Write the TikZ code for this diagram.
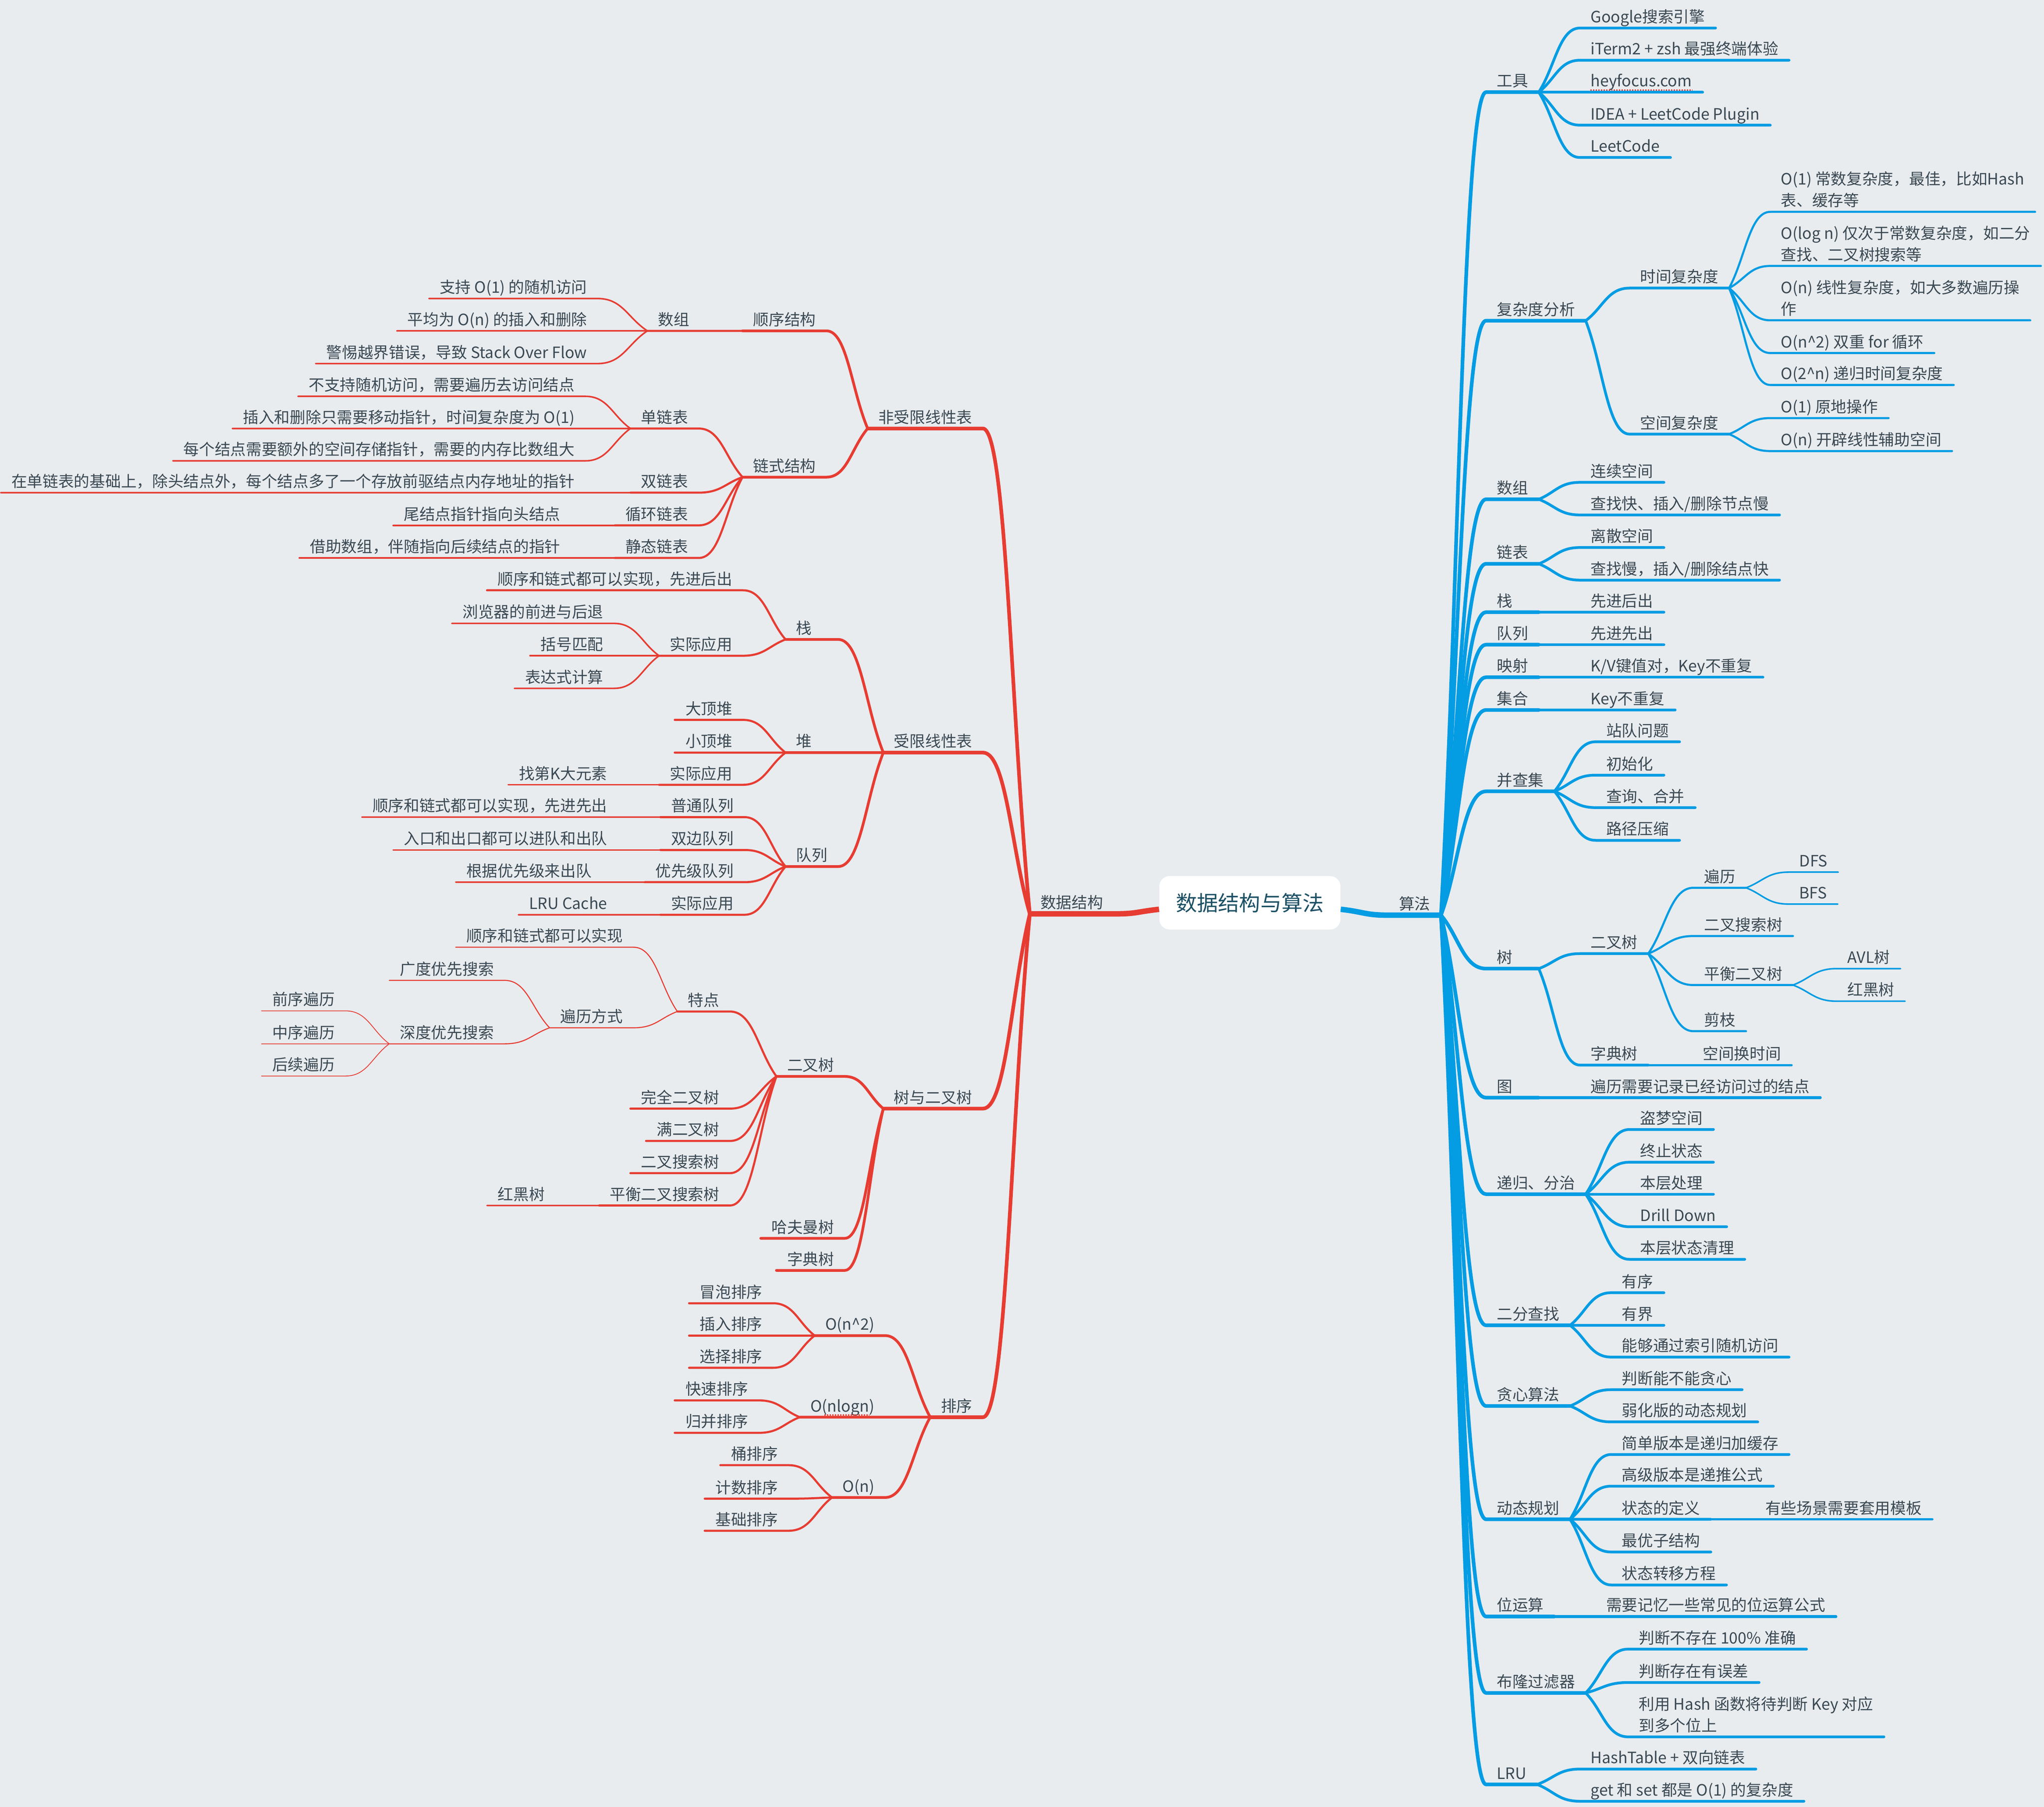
\documentclass[tikz,border=0pt]{standalone}
\usepackage{fontspec}
\setmainfont{Noto Sans CJK SC}
\usetikzlibrary{calc}
\definecolor{bgc}{RGB}{232,236,239}
\definecolor{dsred}{RGB}{231,60,50}
\definecolor{algblue}{RGB}{4,156,227}
\definecolor{txt}{RGB}{58,72,82}
\definecolor{roottxt}{RGB}{28,80,100}
\newcommand\mlines[2]{\begin{tabular}[b]{@{}l@{}}#1\\#2\end{tabular}}
% nhanh phai: tu cuoi gach chan cua cha sang dau gach chan cua con
\newcommand\linkR[3][]{\draw[#1] (#2.south east) .. controls ($(#2.south east)!0.4!(#3.south west)$) and ($(#3.south west)!0.5!(#2.south east |- #3.south west)$) .. (#3.south west) -- (#3.south east);}
% nhanh trai
\newcommand\linkL[3][]{\draw[#1] (#2.south west) .. controls ($(#2.south west)!0.4!(#3.south east)$) and ($(#3.south east)!0.5!(#2.south west |- #3.south east)$) .. (#3.south east) -- (#3.south west);}
\begin{document}
\begin{tikzpicture}[x=1pt, y=-1pt, line join=round, line cap=round,
	font=\fontsize{12}{16.5}\selectfont,
	topic/.style={inner xsep=8pt, inner ysep=1pt, text depth=3pt, text=txt},
	rt/.style={topic, anchor=south west},
	lt/.style={topic, anchor=south east},
	sh/.style={text width=24pt},
	root/.style={fill=white, rounded corners=8pt, minimum width=139pt, minimum height=41pt, inner sep=0pt, text=roottxt, font=\fontsize{16.2}{18}\selectfont},
	bl/.style={draw=algblue}, rd/.style={draw=dsred},
	d1/.style={line width=2.8pt}, d2/.style={line width=2.1pt}, d3/.style={line width=1.6pt},
	d4/.style={line width=1.2pt}, d5/.style={line width=0.8pt}, d6/.style={line width=0.6pt}]
	\def\rA{1140}  % cot nhanh 1 ben phai
	\def\lA{754}   % cot nhanh 1 ben trai
	\fill[bgc] (0,0) rectangle (1568,1386);
	\useasboundingbox (0,0) rectangle (1568,1386);
	
	\node[root] (root) at (958.8,692.5) {数据结构与算法};
	\node[rt] (alg) at (1065,702) {算法};
	\node[lt, anchor=south west] (ds) at (790,701) {数据结构};
	\coordinate (rootR) at ($(root.east)+(0,5)$);
	\coordinate (rootL) at ($(root.west)+(0,5)$);
	\draw[bl, line width=4.2pt, line cap=butt] (rootR) .. controls +(18,2) and +(-18,0) .. (alg.south west) -- (alg.south east);
	\draw[rd, line width=4.2pt, line cap=butt] (rootL) .. controls +(-18,2) and +(18,0) .. (ds.south east) -- (ds.south west);
	
	% ===== 算法 =====
	\foreach \n/\y/\lab in {tool/70.7/工具, cplx/246/复杂度分析, arr/383/数组, lnk/432.5/链表, que/494.5/队列, map/519.5/映射, set/544.6/集合, ufs/607/并查集, rec/916/递归、分治, bins/1016.6/二分查找, greedy/1078.5/贪心算法, dp/1165.4/动态规划, bit/1240/位运算, bloom/1298.6/布隆过滤器, lru/1368.8/LRU}
		{\node[rt] (\n) at (\rA,\y) {\lab}; \linkR[bl,d1]{alg}{\n}}
	\foreach \n/\y/\lab in {stk/469.6/栈, tree/743/树, graph/842/图}
		{\node[rt, sh] (\n) at (\rA,\y) {\lab}; \linkR[bl,d1]{alg}{\n}}
	
	\foreach \n/\y/\lab in {tool1/21.5/Google搜索引擎, tool2/46.2/iTerm2 + zsh 最强终端体验, tool3/70.7/heyfocus.com, tool4/96/IDEA + LeetCode Plugin, tool5/120.8/LeetCode}
		{\node[rt] (\n) at (1212,\y) {\lab}; \linkR[bl,d2]{tool}{\n}}
	\draw[dsred, line width=1pt, line cap=butt, dash pattern=on 1pt off 1pt] ($(tool3.base west)+(8,2.5)$) -- ($(tool3.base east)+(-8,2.5)$);
	
	\node[rt] (time) at (1250,221) {时间复杂度};
	\node[rt] (space) at (1250,333) {空间复杂度};
	\linkR[bl,d2]{cplx}{time}
	\linkR[bl,d2]{cplx}{space}
	\node[rt] (tc1) at (1358,162.5) {\mlines{O(1) 常数复杂度，最佳，比如Hash}{表、缓存等}};
	\node[rt] (tc2) at (1358,204) {\mlines{O(log n) 仅次于常数复杂度，如二分}{查找、二叉树搜索等}};
	\node[rt] (tc3) at (1358,245.7) {\mlines{O(n) 线性复杂度，如大多数遍历操}{作}};
	\node[rt] (tc4) at (1358,270.8) {O(n\textasciicircum 2) 双重 for 循环};
	\node[rt] (tc5) at (1358,295.3) {O(2\textasciicircum n) 递归时间复杂度};
	\foreach \n in {tc1,tc2,tc3,tc4,tc5} {\linkR[bl,d3]{time}{\n}}
	\node[rt] (sc1) at (1358,320.7) {O(1) 原地操作};
	\node[rt] (sc2) at (1358,346) {O(n) 开辟线性辅助空间};
	\linkR[bl,d3]{space}{sc1}
	\linkR[bl,d3]{space}{sc2}
	
	\node[rt] (arr1) at (1212,370) {连续空间};
	\node[rt] (arr2) at (1212,395) {查找快、插入/删除节点慢};
	\node[rt] (lnk1) at (1212,420) {离散空间};
	\node[rt] (lnk2) at (1212,445) {查找慢，插入/删除结点快};
	\node[rt] (stk1) at (1212,469.6) {先进后出};
	\node[rt] (que1) at (1212,494.5) {先进先出};
	\node[rt] (map1) at (1212,519.5) {K/V键值对，Key不重复};
	\node[rt] (set1) at (1212,544.6) {Key不重复};
	\linkR[bl,d2]{arr}{arr1} \linkR[bl,d2]{arr}{arr2}
	\linkR[bl,d2]{lnk}{lnk1} \linkR[bl,d2]{lnk}{lnk2}
	\linkR[bl,d2]{stk}{stk1} \linkR[bl,d2]{que}{que1}
	\linkR[bl,d2]{map}{map1} \linkR[bl,d2]{set}{set1}
	
	\foreach \n/\y/\lab in {ufs1/569/站队问题, ufs2/594.6/初始化, ufs3/619.5/查询、合并, ufs4/644.6/路径压缩}
		{\node[rt] (\n) at (1224,\y) {\lab}; \linkR[bl,d2]{ufs}{\n}}
	
	\node[rt] (bt) at (1212,731.5) {二叉树};
	\node[rt] (trie) at (1212,817) {字典树};
	\linkR[bl,d2]{tree}{bt} \linkR[bl,d2]{tree}{trie}
	\node[rt] (trav) at (1299,681) {遍历};
	\node[rt] (bst) at (1299,718) {二叉搜索树};
	\node[rt] (bal) at (1299,755.6) {平衡二叉树};
	\node[rt] (prune) at (1299,791) {剪枝};
	\foreach \n in {trav,bst,bal,prune} {\linkR[bl,d3]{bt}{\n}}
	\node[rt] (dfs) at (1372,669) {DFS};
	\node[rt] (bfs) at (1372,693.5) {BFS};
	\linkR[bl,d4]{trav}{dfs} \linkR[bl,d4]{trav}{bfs}
	\node[rt] (avl) at (1409,743) {AVL树};
	\node[rt] (rbt) at (1409,768) {红黑树};
	\linkR[bl,d4]{bal}{avl} \linkR[bl,d4]{bal}{rbt}
	\node[rt] (trie1) at (1298,817) {空间换时间};
	\linkR[bl,d3]{trie}{trie1}
	\node[rt] (graph1) at (1212,842) {遍历需要记录已经访问过的结点};
	\linkR[bl,d2]{graph}{graph1}
	
	\foreach \n/\y/\lab in {rec1/866.4/盗梦空间, rec2/891.5/终止状态, rec3/916/本层处理, rec4/941/Drill Down, rec5/966/本层状态清理}
		{\node[rt] (\n) at (1250,\y) {\lab}; \linkR[bl,d2]{rec}{\n}}
	\foreach \n/\y/\lab in {bins1/991.6/有序, bins2/1016.6/有界, bins3/1041/能够通过索引随机访问}
		{\node[rt] (\n) at (1236,\y) {\lab}; \linkR[bl,d2]{bins}{\n}}
	\foreach \n/\y/\lab in {gr1/1066/判断能不能贪心, gr2/1090.7/弱化版的动态规划}
		{\node[rt] (\n) at (1236,\y) {\lab}; \linkR[bl,d2]{greedy}{\n}}
	\foreach \n/\y/\lab in {dp1/1115.7/简单版本是递归加缓存, dp2/1140/高级版本是递推公式, dp3/1165.4/状态的定义, dp4/1190.5/最优子结构, dp5/1215.8/状态转移方程}
		{\node[rt] (\n) at (1236,\y) {\lab}; \linkR[bl,d2]{dp}{\n}}
	\node[rt] (dp31) at (1346,1165.4) {有些场景需要套用模板};
	\linkR[bl,d3]{dp3}{dp31}
	\node[rt] (bit1) at (1224,1240) {需要记忆一些常见的位运算公式};
	\linkR[bl,d2]{bit}{bit1}
	\node[rt] (bl1) at (1249,1265) {判断不存在 100\% 准确};
	\node[rt] (bl2) at (1249,1290.6) {判断存在有误差};
	\node[rt] (bl3) at (1249,1332.3) {\mlines{利用 Hash 函数将待判断 Key 对应}{到多个位上}};
	\foreach \n in {bl1,bl2,bl3} {\linkR[bl,d2]{bloom}{\n}}
	\node[rt] (lru1) at (1212,1357) {HashTable + 双向链表};
	\node[rt] (lru2) at (1212,1381.7) {get 和 set 都是 O(1) 的复杂度};
	\linkR[bl,d2]{lru}{lru1} \linkR[bl,d2]{lru}{lru2}
	
	% ===== 数据结构 =====
	\foreach \n/\y/\lab in {lin/328.7/非受限线性表, rlin/577.3/受限线性表, trees/850.4/树与二叉树, sort/1087.1/排序}
		{\node[lt] (\n) at (\lA,\y) {\lab}; \linkL[rd,d1]{ds}{\n}}
	
	\node[lt] (seq) at (634,253.8) {顺序结构};
	\node[lt] (chain) at (634,366) {链式结构};
	\linkL[rd,d2]{lin}{seq} \linkL[rd,d2]{lin}{chain}
	\node[lt] (sarr) at (537,253.8) {数组};
	\linkL[rd,d3]{seq}{sarr}
	\foreach \n/\y/\lab in {sarr1/229/支持 O(1) 的随机访问, sarr2/253.8/平均为 O(n) 的插入和删除, sarr3/278.9/警惕越界错误，导致 Stack Over Flow}
		{\node[lt] (\n) at (458.5,\y) {\lab}; \linkL[rd,d4]{sarr}{\n}}
	\foreach \n/\y/\lab in {sll/328.7/单链表, dll/377.9/双链表, cll/403/循环链表, stl/428/静态链表}
		{\node[lt] (\n) at (536,\y) {\lab}; \linkL[rd,d3]{chain}{\n}}
	\foreach \n/\y/\lab in {sll1/304/不支持随机访问，需要遍历去访问结点, sll2/328.7/插入和删除只需要移动指针，时间复杂度为 O(1), sll3/353.5/每个结点需要额外的空间存储指针，需要的内存比数组大}
		{\node[lt] (\n) at (449,\y) {\lab}; \linkL[rd,d4]{sll}{\n}}
	\node[lt] (dll1) at (449,377.9) {在单链表的基础上，除头结点外，每个结点多了一个存放前驱结点内存地址的指针};
	\node[lt] (cll1) at (438,403) {尾结点指针指向头结点};
	\node[lt] (stl1) at (438,428) {借助数组，伴随指向后续结点的指针};
	\linkL[rd,d4]{dll}{dll1} \linkL[rd,d4]{cll}{cll1} \linkL[rd,d4]{stl}{stl1}
	
	\node[lt, sh] (rstk) at (643,490.5) {栈};
	\node[lt, sh] (heap) at (643,577.3) {堆};
	\node[lt] (rque) at (643,664.7) {队列};
	\foreach \n in {rstk,heap,rque} {\linkL[rd,d2]{rlin}{\n}}
	\node[lt] (rstk1) at (570,452.8) {顺序和链式都可以实现，先进后出};
	\node[lt] (rstk2) at (570,503) {实际应用};
	\linkL[rd,d3]{rstk}{rstk1} \linkL[rd,d3]{rstk}{rstk2}
	\foreach \n/\y/\lab in {bro/478.2/浏览器的前进与后退, brk/503/括号匹配, expr/528/表达式计算}
		{\node[lt] (\n) at (471,\y) {\lab}; \linkL[rd,d4]{rstk2}{\n}}
	\foreach \n/\y/\lab in {big/552.2/大顶堆, small/577.3/小顶堆, heap3/602/实际应用}
		{\node[lt] (\n) at (570,\y) {\lab}; \linkL[rd,d3]{heap}{\n}}
	\node[lt] (kth) at (474,602) {找第K大元素};
	\linkL[rd,d4]{heap3}{kth}
	\foreach \n/\y/\lab in {q1/626.8/普通队列, q2/652/双边队列, q3/676.7/优先级队列, q4/701.7/实际应用}
		{\node[lt] (\n) at (571,\y) {\lab}; \linkL[rd,d3]{rque}{\n}}
	\node[lt] (q1a) at (474,626.8) {顺序和链式都可以实现，先进先出};
	\node[lt] (q2a) at (474,652) {入口和出口都可以进队和出队};
	\node[lt] (q3a) at (462,676.7) {根据优先级来出队};
	\node[lt] (q4a) at (474,701.7) {LRU Cache};
	\linkL[rd,d4]{q1}{q1a} \linkL[rd,d4]{q2}{q2a} \linkL[rd,d4]{q3}{q3a} \linkL[rd,d4]{q4}{q4a}
	
	\foreach \n/\y/\lab in {bt2/825.7/二叉树, huff/949.9/哈夫曼树, trie2/974.5/字典树}
		{\node[lt] (\n) at (648,\y) {\lab}; \linkL[rd,d2]{trees}{\n}}
	\foreach \n/\y/\lab in {feat/775.9/特点, full/850.4/完全二叉树, perf/875.2/满二叉树, bst2/899.9/二叉搜索树, avl2/924.7/平衡二叉搜索树}
		{\node[lt] (\n) at (560,\y) {\lab}; \linkL[rd,d3]{bt2}{\n}}
	\node[lt] (rb2) at (426,924.7) {红黑树};
	\linkL[rd,d4]{avl2}{rb2}
	\node[lt] (fe1) at (486,726.6) {顺序和链式都可以实现};
	\node[lt] (trv) at (486,788.4) {遍历方式};
	\linkL[rd,d5]{feat}{fe1} \linkL[rd,d5]{feat}{trv}
	\node[lt] (bfs2) at (387,752) {广度优先搜索};
	\node[lt] (dfs2) at (387,800.7) {深度优先搜索};
	\linkL[rd,d5]{trv}{bfs2} \linkL[rd,d5]{trv}{dfs2}
	\foreach \n/\y/\lab in {pre/775.4/前序遍历, mid/800.7/中序遍历, post/825.4/后续遍历}
		{\node[lt] (\n) at (265,\y) {\lab}; \linkL[rd,d6]{dfs2}{\n}}
	
	\node[lt] (n2) at (679,1024.5) {O(n\textasciicircum 2)};
	\node[lt] (nlogn) at (679,1087.1) {O(nlogn)};
	\node[lt] (on) at (679,1148.7) {O(n)};
	\foreach \n in {n2,nlogn,on} {\linkL[rd,d2]{sort}{\n}}
	\draw[dsred, line width=1pt, line cap=butt, dash pattern=on 1pt off 1pt] ($(nlogn.base west)+(19,2.5)$) -- ($(nlogn.base east)+(-12,2.5)$);
	\foreach \n/\y/\lab in {bub/999.7/冒泡排序, ins/1024.5/插入排序, sel/1049.2/选择排序}
		{\node[lt] (\n) at (593,\y) {\lab}; \linkL[rd,d3]{n2}{\n}}
	\foreach \n/\y/\lab in {qs/1074.2/快速排序, ms/1099.1/归并排序}
		{\node[lt] (\n) at (582,\y) {\lab}; \linkL[rd,d3]{nlogn}{\n}}
	\foreach \n/\y/\lab in {bkt/1123.9/桶排序, cnt/1149.6/计数排序, rdx/1174.2/基础排序}
		{\node[lt] (\n) at (605,\y) {\lab}; \linkL[rd,d3]{on}{\n}}
\end{tikzpicture}
\end{document}
